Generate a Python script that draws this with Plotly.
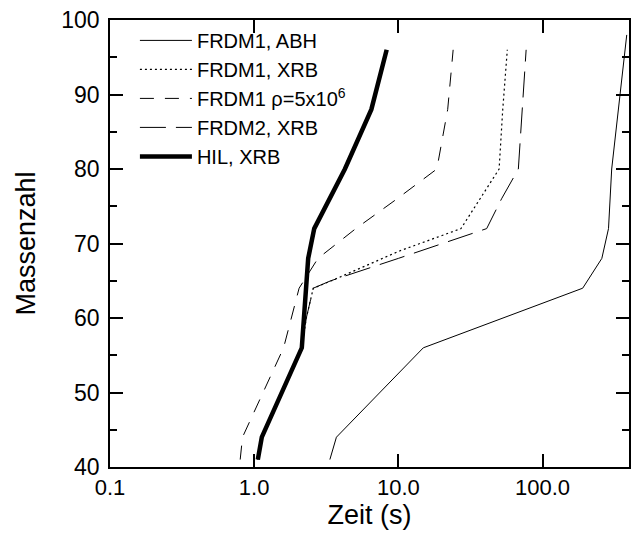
import plotly.graph_objects as go

# ---- data ----
abh_x = [3.35, 3.72, 14.9, 190, 258, 287, 302, 336, 384]
abh_y = [41, 44, 56, 64, 68, 72, 80, 88, 98]

xrb1_x = [1.06, 1.13, 2.14, 2.3, 2.57, 3.44, 10.2, 27.2, 50, 53, 57]
xrb1_y = [41, 44, 56, 60, 64, 65, 69, 72, 80, 88, 96]

rho_x = [0.8, 0.83, 1.6, 2.05, 2.77, 5.07, 9.8, 18.5, 22, 24]
rho_y = [41, 44, 56, 64, 68, 72, 76, 80, 88, 96]

xrb2_x = [1.06, 1.13, 2.14, 2.3, 2.57, 3.4, 10, 41, 52, 68, 77]
xrb2_y = [41, 44, 56, 60, 64, 65, 68, 72, 76, 80, 96]

hil_x = [1.06, 1.13, 2.14, 2.37, 2.61, 4.26, 6.5, 7.4, 8.3]
hil_y = [41, 44, 56, 68, 72, 80, 88, 92, 96]

FONT = "Liberation Sans, Arial, sans-serif"
XRANGE = [-1, 2.6]

fig = go.Figure()
fig.add_trace(go.Scatter(x=abh_x, y=abh_y, mode="lines", name="FRDM1, ABH",
                         line=dict(color="black", width=1)))
fig.add_trace(go.Scatter(x=xrb1_x, y=xrb1_y, mode="lines", name="FRDM1, XRB",
                         line=dict(color="black", width=1.2, dash="2px,3px")))
fig.add_trace(go.Scatter(x=rho_x, y=rho_y, mode="lines",
                         name="FRDM1 \u03c1=5x10<sup>6</sup>",
                         line=dict(color="black", width=1, dash="14px,11px")))
fig.add_trace(go.Scatter(x=xrb2_x, y=xrb2_y, mode="lines", name="FRDM2, XRB",
                         line=dict(color="black", width=1, dash="26px,10px")))
fig.add_trace(go.Scatter(x=hil_x, y=hil_y, mode="lines", name="HIL, XRB",
                         line=dict(color="black", width=4.5)))

fig.update_layout(
    width=635, height=536,
    margin=dict(l=110, r=4, t=20, b=69),
    plot_bgcolor="white", paper_bgcolor="white",
    font=dict(family=FONT, color="black", size=23),
    showlegend=True,
    legend=dict(x=0.048, y=0.998, xanchor="left", yanchor="top",
                bgcolor="rgba(0,0,0,0)", font=dict(size=20, family=FONT),
                tracegroupgap=0, itemwidth=52),
    xaxis=dict(
        type="log", range=XRANGE,
        tickmode="linear", tick0=0, dtick=1, tickformat=".1f",
        ticks="inside", ticklen=13, tickwidth=1.5, tickcolor="black",
        showline=True, linecolor="black", linewidth=1.5, mirror="ticks",
        title=dict(text="Zeit (s)", font=dict(size=27), standoff=6),
        tickfont=dict(size=22),
    ),
    xaxis2=dict(
        type="log", range=XRANGE, overlaying="x", anchor="y", side="bottom",
        tickmode="linear", tick0=0, dtick="D1", showticklabels=False,
        ticks="inside", ticklen=7, tickwidth=1.5, tickcolor="black",
        showline=True, linecolor="black", linewidth=1.5, mirror="ticks",
        showgrid=False,
    ),
    yaxis=dict(
        range=[40, 100],
        tickmode="linear", tick0=40, dtick=10,
        ticks="inside", ticklen=13, tickwidth=1.5, tickcolor="black",
        minor=dict(ticks="inside", ticklen=7, tickwidth=1.5, tickcolor="black",
                   dtick=5),
        showline=True, linecolor="black", linewidth=1.5, mirror="ticks",
        ticklabelstandoff=4,
        title=dict(text="Massenzahl", font=dict(size=27), standoff=18),
        tickfont=dict(size=23),
    ),
)

fig.write_html("out.html")
